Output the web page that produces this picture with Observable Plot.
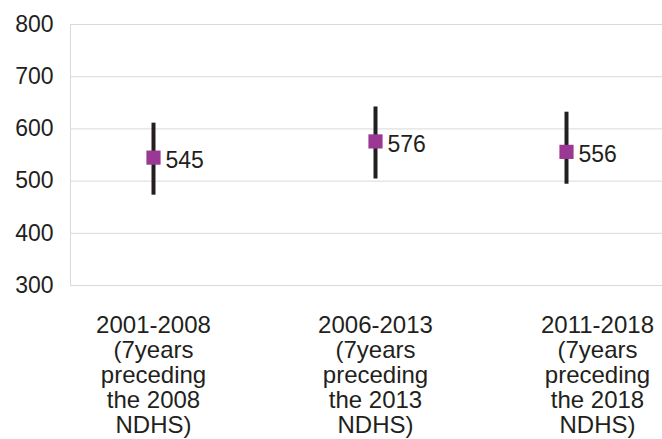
<!DOCTYPE html>
<html>
<head>
<meta charset="utf-8">
<script src="https://cdn.jsdelivr.net/npm/d3@7"></script>
<script src="https://cdn.jsdelivr.net/npm/@observablehq/plot@0.6"></script>
<style>
  html, body { margin: 0; padding: 0; background: #fff; }
  #chart svg { display: block; }
</style>
</head>
<body>
<div id="chart"></div>
<script>
// ---- data ----
const periods = ["2001-2008", "2006-2013", "2011-2018"];
const tickLabels = [
  "2001-2008\n(7years\npreceding\nthe 2008\nNDHS)",
  "2006-2013\n(7years\npreceding\nthe 2013\nNDHS)",
  "2011-2018\n(7years\npreceding\nthe 2018\nNDHS)"
];
const estimates = [545, 576, 556];
const lower = [473, 504, 494];
const upper = [611, 642, 632];
const yTicks = [300, 400, 500, 600, 700, 800];

const rows = periods.map((p, i) => ({period: p, value: estimates[i], lo: lower[i], hi: upper[i]}));
const labelOf = new Map(periods.map((p, i) => [p, tickLabels[i]]));

const textColor = "#231f20";
const gridColor = "#d9d9d9";
const font = "Liberation Sans, Arial, Helvetica, sans-serif";

// the last estimate sits left of its category label in the reference
const groups = [[rows.slice(0, 2), 0], [rows.slice(2), -31]];

const dataMarks = groups.flatMap(([d, dx]) => [
  Plot.ruleX(d, {x: "period", y1: "lo", y2: "hi", stroke: textColor, strokeWidth: 4, dx}),
  Plot.dot(d, {x: "period", y: "value", symbol: "square", r: 8, fill: "#9b3893", stroke: null, dx}),
  Plot.text(d, {x: "period", y: "value", text: d => String(d.value), textAnchor: "start",
    dx: dx + 12, dy: 3, fontSize: 23, fill: textColor})
]);

const chart = Plot.plot({
  width: 662,
  height: 439,
  marginTop: 24,
  marginBottom: 154,
  marginLeft: 70,
  marginRight: 0,
  style: {fontFamily: font, color: textColor, background: "#fff"},
  x: {type: "point", domain: periods, range: [153, 597], padding: 0},
  y: {domain: [300, 800], ticks: yTicks},
  marks: [
    Plot.ruleY(yTicks, {stroke: gridColor, strokeWidth: 1}),
    Plot.frame({anchor: "left", stroke: gridColor, strokeWidth: 1}),
    Plot.axisY(yTicks, {tickSize: 0, tickPadding: 17, fontSize: 23, fill: textColor, label: null}),
    Plot.axisX({tickSize: 0, tickPadding: 30, fontSize: 24, lineHeight: 1.04,
      tickFormat: p => labelOf.get(p), fill: textColor, label: null}),
    ...dataMarks
  ]
});

document.getElementById("chart").appendChild(chart);
</script>
</body>
</html>
